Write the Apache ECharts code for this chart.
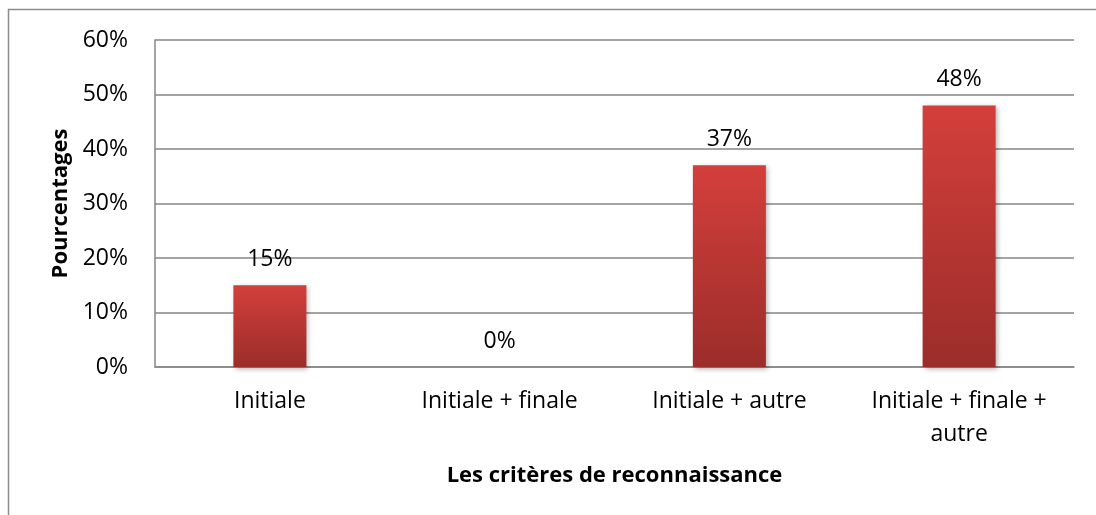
<!DOCTYPE html>
<html>
<head>
<meta charset="utf-8">
<script src="https://cdn.jsdelivr.net/npm/echarts@6/dist/echarts.min.js"></script>
<style>
  html, body { margin: 0; padding: 0; background: #fff; }
  #chart { width: 1096px; height: 515px; }
</style>
</head>
<body>
<div id="chart"></div>
<script>
// data
const categories = ['Initiale', 'Initiale + finale', 'Initiale + autre', 'Initiale + finale +\nautre'];
const percentages = [15, 0, 37, 48];
const yTicks = [0, 10, 20, 30, 40, 50, 60];

const font = '"Open Sans", sans-serif';
const chart = echarts.init(document.getElementById('chart'));

chart.setOption({
    animation: false,
    // outer chart frame (right and bottom sides fall outside the picture)
    graphic: [{
        type: 'rect',
        shape: { x: 8.5, y: 9.5, width: 1200, height: 600 },
        style: { fill: 'none', stroke: '#8c8c8c', lineWidth: 1.5 },
        silent: true
    }],
    grid: { left: 155, right: 22, top: 40, bottom: 148 },
    xAxis: {
        type: 'category',
        data: categories,
        name: 'Les critères de reconnaissance',
        nameLocation: 'middle',
        nameGap: 98,
        nameTextStyle: { fontFamily: font, fontSize: 22, fontWeight: 'bold', color: '#000' },
        axisLine: { lineStyle: { color: '#868686', width: 1.5 } },
        axisTick: { show: false },
        axisLabel: { fontFamily: font, fontSize: 23, color: '#000', margin: 18, lineHeight: 33 }
    },
    yAxis: {
        type: 'value',
        min: yTicks[0],
        max: yTicks[yTicks.length - 1],
        interval: 10,
        name: 'Pourcentages',
        nameLocation: 'middle',
        nameGap: 80,
        nameRotate: 90,
        nameTextStyle: { fontFamily: font, fontSize: 22, fontWeight: 'bold', color: '#000' },
        axisLine: { show: true, lineStyle: { color: '#868686', width: 1.5 } },
        axisTick: { show: false },
        splitLine: { lineStyle: { color: '#868686', width: 1.5 } },
        axisLabel: { fontFamily: font, fontSize: 23, color: '#000', margin: 27, formatter: '{value}%' }
    },
    series: [{
        type: 'bar',
        data: percentages,
        barWidth: 73,
        itemStyle: {
            color: new echarts.graphic.LinearGradient(0, 0, 0, 1, [
                { offset: 0, color: '#d33f3b' },
                { offset: 1, color: '#9b2d2a' }
            ]),
            shadowBlur: 5,
            shadowColor: 'rgba(0,0,0,0.3)',
            shadowOffsetX: 2,
            shadowOffsetY: 2
        },
        label: {
            show: true,
            position: 'top',
            distance: 14,
            fontFamily: font,
            fontSize: 23,
            color: '#000',
            formatter: '{c}%'
        }
    }]
});
</script>
</body>
</html>
